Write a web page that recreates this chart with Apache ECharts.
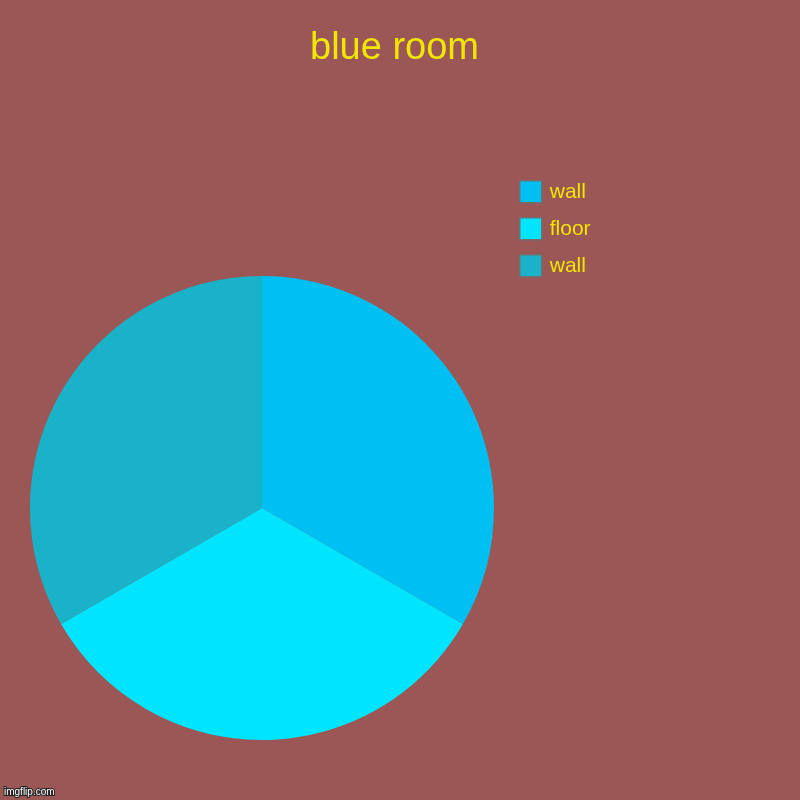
<!DOCTYPE html>
<html>
<head>
<meta charset="utf-8">
<script src="https://cdn.jsdelivr.net/npm/echarts@6/dist/echarts.min.js"></script>
<style>
  html, body { margin: 0; padding: 0; background: #9b5756; }
  #main { width: 800px; height: 800px; }
</style>
</head>
<body>
<div id="main"></div>
<script>
// slices, clockwise from 12 o'clock
var categories = ['wall', 'floor', 'wall'];
var values = [1, 1, 1];
var colors = ['#00bff3', '#00e5ff', '#1ab2c8'];

var chart = echarts.init(document.getElementById('main'));

// legend merges equal names, so pad repeats with a zero-width space
var seen = {};
var names = categories.map(function (c) {
    var n = c;
    while (seen[n]) n += '\u200b';
    seen[n] = true;
    return n;
});

var pieData = names.map(function (n, i) {
    return { name: n, value: values[i], itemStyle: { color: colors[i] } };
});

var option = {
    backgroundColor: '#9b5756',
    animation: false,
    title: {
        text: 'blue room',
        left: 310,
        top: 30,
        padding: 0,
        textStyle: {
            color: '#f2e600',
            fontSize: 38,
            fontWeight: 'normal',
            fontFamily: 'Liberation Sans, Arial, sans-serif'
        }
    },
    legend: {
        orient: 'vertical',
        left: 519,
        top: 180,
        padding: 0,
        itemWidth: 22,
        itemHeight: 22,
        itemGap: 13.5,
        selectedMode: false,
        icon: 'rect',
        itemStyle: { borderColor: '#707070', borderWidth: 1.5 },
        textStyle: {
            color: '#f2e600',
            fontSize: 21,
            lineHeight: 22,
            padding: [0, 0, 0, 3],
            fontFamily: 'Liberation Sans, Arial, sans-serif'
        },
        data: names
    },
    series: [{
        type: 'pie',
        center: [262, 508],
        radius: 232,
        startAngle: 90,
        clockwise: true,
        label: { show: false },
        labelLine: { show: false },
        emphasis: { disabled: true },
        itemStyle: { borderWidth: 0 },
        data: pieData
    }],
    graphic: [{
        type: 'text',
        left: 3,
        top: 786,
        style: {
            text: 'imgflip.com',
            fill: '#ffffff',
            stroke: '#222222',
            lineWidth: 2,
            font: '10px Liberation Sans, Arial, sans-serif'
        }
    }]
};

chart.setOption(option);
</script>
</body>
</html>
